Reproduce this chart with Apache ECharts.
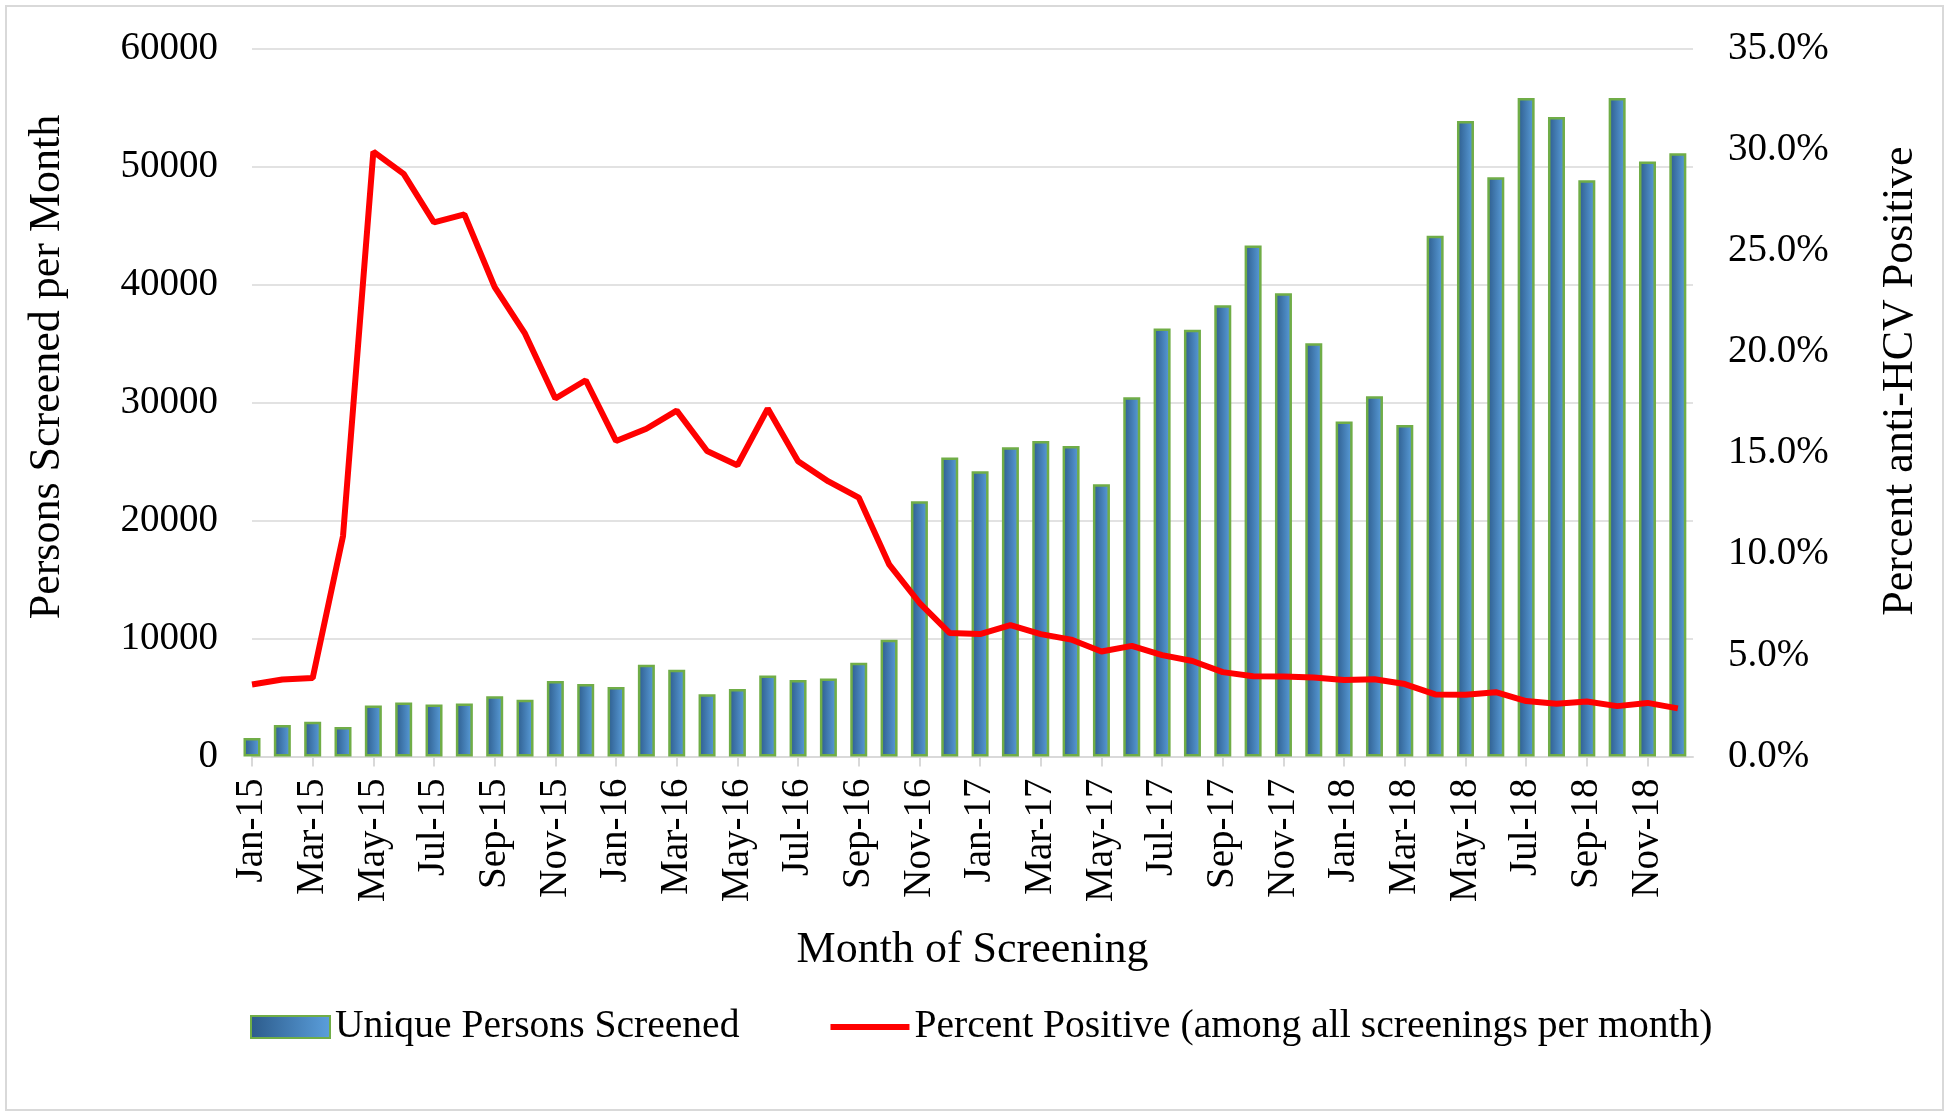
<!DOCTYPE html>
<html>
<head>
<meta charset="utf-8">
<script src="https://cdn.jsdelivr.net/npm/echarts@6/dist/echarts.min.js"></script>
<style>
html,body{margin:0;padding:0;background:#fff;}
#chart{width:1950px;height:1118px;}
</style>
</head>
<body>
<div id="chart"></div>
<script>
const months = ['Jan-15','Feb-15','Mar-15','Apr-15','May-15','Jun-15','Jul-15','Aug-15','Sep-15','Oct-15','Nov-15','Dec-15',
  'Jan-16','Feb-16','Mar-16','Apr-16','May-16','Jun-16','Jul-16','Aug-16','Sep-16','Oct-16','Nov-16','Dec-16',
  'Jan-17','Feb-17','Mar-17','Apr-17','May-17','Jun-17','Jul-17','Aug-17','Sep-17','Oct-17','Nov-17','Dec-17',
  'Jan-18','Feb-18','Mar-18','Apr-18','May-18','Jun-18','Jul-18','Aug-18','Sep-18','Oct-18','Nov-18','Dec-18'];
const personsScreened = [1560,2680,2940,2500,4320,4580,4410,4500,5100,4800,6400,6140,
  5880,7780,7350,5270,5710,6870,6490,6610,7950,9900,21630,25340,
  24170,26210,26740,26320,23070,30450,36270,36160,38240,43310,39260,35020,
  28400,30520,28100,44140,53860,49090,55810,54200,48830,55810,50420,51130];
const percentPositive = [3.56,3.81,3.88,10.9,29.9,28.8,26.4,26.8,23.2,20.9,17.7,18.6,
  15.6,16.2,17.1,15.1,14.4,17.2,14.6,13.6,12.8,9.5,7.6,6.1,
  6.05,6.5,6.05,5.78,5.19,5.47,5.01,4.72,4.17,3.97,3.95,3.91,
  3.78,3.82,3.58,3.07,3.05,3.18,2.74,2.61,2.72,2.49,2.65,2.38];
const leftTicks = {min:0, max:60000, interval:10000};
const rightTicks = {min:0, max:35, interval:5};
const labelIndices = months.map((m,i)=>i).filter(i=>i%2===0);

const FONT = 'Liberation Serif';
const chart = echarts.init(document.getElementById('chart'));
const barGrad = new echarts.graphic.LinearGradient(0,0,1,0,[
  {offset:0,color:'#2c5b8b'},{offset:1,color:'#5b9fdc'}]);

chart.setOption({
  backgroundColor:'#ffffff',
  animation:false,
  grid:{left:252, right:257, top:48.5, bottom:361.5},
  legend:{
    left:245, top:1000, itemWidth:79, itemHeight:22, itemGap:88,
    textStyle:{fontFamily:FONT, fontSize:39.6, color:'#000', lineHeight:44},
    data:[{name:'Unique Persons Screened', icon:'rect'},
          {name:'Percent Positive (among all screenings per month)', itemStyle:{opacity:0}, lineStyle:{width:6, color:'#ff0000'}}]
  },
  xAxis:{
    type:'value', min:0, max:months.length-0.5,
    axisLine:{lineStyle:{color:'#d9d9d9', width:2}},
    axisTick:{show:true, length:10, lineStyle:{color:'#d9d9d9', width:2}, customValues:labelIndices},
    axisLabel:{rotate:90, margin:22, fontFamily:FONT, fontSize:39, color:'#000',
      customValues:labelIndices, formatter:v=>months[Math.round(v)]||''},
    splitLine:{show:false}
  },
  yAxis:[
    {type:'value', min:leftTicks.min, max:leftTicks.max, interval:leftTicks.interval,
     axisLine:{show:false}, axisTick:{show:false},
     axisLabel:{margin:34, fontFamily:FONT, fontSize:39, color:'#000', formatter:v=>String(v)},
     splitLine:{lineStyle:{color:'#d9d9d9', width:1.5}}},
    {type:'value', min:rightTicks.min, max:rightTicks.max, interval:rightTicks.interval,
     axisLine:{show:false}, axisTick:{show:false},
     axisLabel:{margin:35, fontFamily:FONT, fontSize:39, color:'#000', formatter:v=>v.toFixed(1)+'%'},
     splitLine:{show:false}}
  ],
  series:[
    {name:'Unique Persons Screened', type:'bar', barWidth:17, clip:true,
     itemStyle:{color:barGrad, borderColor:'#70ad47', borderWidth:2.5},
     data:personsScreened.map((v,i)=>[i,v])},
    {name:'Percent Positive (among all screenings per month)', type:'line', yAxisIndex:1,
     symbol:'none', lineStyle:{color:'#ff0000', width:6}, itemStyle:{color:'#ff0000'},
     data:percentPositive.map((v,i)=>[i,v])}
  ],
  graphic:[
    {type:'rect', silent:true, shape:{x:6, y:6, width:1937, height:1104},
     style:{fill:'none', stroke:'#d9d9d9', lineWidth:2}},
    {type:'text', x:47, y:367, rotation:Math.PI/2,
     style:{text:'Persons Screened per Month', fontFamily:FONT, fontSize:44, fill:'#000', align:'center', verticalAlign:'middle'}},
    {type:'text', x:1900, y:381, rotation:Math.PI/2,
     style:{text:'Percent anti-HCV Positive', fontFamily:FONT, fontSize:44, fill:'#000', align:'center', verticalAlign:'middle'}},
    {type:'text', x:972.5, y:950,
     style:{text:'Month of Screening', fontFamily:FONT, fontSize:44, fill:'#000', align:'center', verticalAlign:'middle'}}
  ]
});
</script>
</body>
</html>
